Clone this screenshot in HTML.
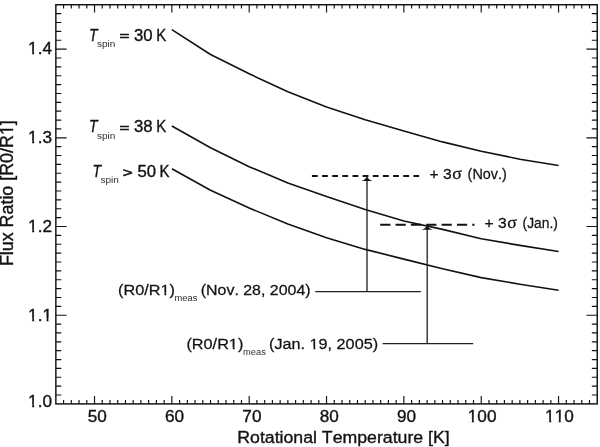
<!DOCTYPE html>
<html lang="en"><head><meta charset="utf-8"><title>Flux Ratio vs Rotational Temperature</title>
<style>html,body{margin:0;padding:0;background:#fff;}body{width:600px;height:447px;overflow:hidden;}svg{display:block;}text{font-family:"Liberation Sans",sans-serif;fill:#121212;stroke:#121212;stroke-width:0.36px;font-kerning:none;}.ann{stroke-width:0.26px;}.sub{stroke:none;fill:#2e2e2e;}.it{font-style:italic;}.sy{font-family:"Liberation Serif","DejaVu Serif",serif;}</style></head><body>
<svg width="600" height="447" viewBox="0 0 600 447">
<rect width="600" height="447" fill="#fff"/>
<rect x="55.85" y="4.75" width="541.38" height="399.15" fill="none" stroke="#121212" stroke-width="1.45"/>
<path d="M63.58 403.90v-3.80M63.58 4.75v3.80M71.32 403.90v-3.80M71.32 4.75v3.80M79.05 403.90v-3.80M79.05 4.75v3.80M86.79 403.90v-3.80M86.79 4.75v3.80M94.52 403.90v-7.80M94.52 4.75v7.80M102.25 403.90v-3.80M102.25 4.75v3.80M109.99 403.90v-3.80M109.99 4.75v3.80M117.72 403.90v-3.80M117.72 4.75v3.80M125.46 403.90v-3.80M125.46 4.75v3.80M133.19 403.90v-3.80M133.19 4.75v3.80M140.92 403.90v-3.80M140.92 4.75v3.80M148.66 403.90v-3.80M148.66 4.75v3.80M156.39 403.90v-3.80M156.39 4.75v3.80M164.13 403.90v-3.80M164.13 4.75v3.80M171.86 403.90v-7.80M171.86 4.75v7.80M179.59 403.90v-3.80M179.59 4.75v3.80M187.33 403.90v-3.80M187.33 4.75v3.80M195.06 403.90v-3.80M195.06 4.75v3.80M202.80 403.90v-3.80M202.80 4.75v3.80M210.53 403.90v-3.80M210.53 4.75v3.80M218.26 403.90v-3.80M218.26 4.75v3.80M226.00 403.90v-3.80M226.00 4.75v3.80M233.73 403.90v-3.80M233.73 4.75v3.80M241.47 403.90v-3.80M241.47 4.75v3.80M249.20 403.90v-7.80M249.20 4.75v7.80M256.93 403.90v-3.80M256.93 4.75v3.80M264.67 403.90v-3.80M264.67 4.75v3.80M272.40 403.90v-3.80M272.40 4.75v3.80M280.14 403.90v-3.80M280.14 4.75v3.80M287.87 403.90v-3.80M287.87 4.75v3.80M295.60 403.90v-3.80M295.60 4.75v3.80M303.34 403.90v-3.80M303.34 4.75v3.80M311.07 403.90v-3.80M311.07 4.75v3.80M318.81 403.90v-3.80M318.81 4.75v3.80M326.54 403.90v-7.80M326.54 4.75v7.80M334.27 403.90v-3.80M334.27 4.75v3.80M342.01 403.90v-3.80M342.01 4.75v3.80M349.74 403.90v-3.80M349.74 4.75v3.80M357.48 403.90v-3.80M357.48 4.75v3.80M365.21 403.90v-3.80M365.21 4.75v3.80M372.94 403.90v-3.80M372.94 4.75v3.80M380.68 403.90v-3.80M380.68 4.75v3.80M388.41 403.90v-3.80M388.41 4.75v3.80M396.15 403.90v-3.80M396.15 4.75v3.80M403.88 403.90v-7.80M403.88 4.75v7.80M411.61 403.90v-3.80M411.61 4.75v3.80M419.35 403.90v-3.80M419.35 4.75v3.80M427.08 403.90v-3.80M427.08 4.75v3.80M434.82 403.90v-3.80M434.82 4.75v3.80M442.55 403.90v-3.80M442.55 4.75v3.80M450.28 403.90v-3.80M450.28 4.75v3.80M458.02 403.90v-3.80M458.02 4.75v3.80M465.75 403.90v-3.80M465.75 4.75v3.80M473.49 403.90v-3.80M473.49 4.75v3.80M481.22 403.90v-7.80M481.22 4.75v7.80M488.95 403.90v-3.80M488.95 4.75v3.80M496.69 403.90v-3.80M496.69 4.75v3.80M504.42 403.90v-3.80M504.42 4.75v3.80M512.16 403.90v-3.80M512.16 4.75v3.80M519.89 403.90v-3.80M519.89 4.75v3.80M527.62 403.90v-3.80M527.62 4.75v3.80M535.36 403.90v-3.80M535.36 4.75v3.80M543.09 403.90v-3.80M543.09 4.75v3.80M550.83 403.90v-3.80M550.83 4.75v3.80M558.56 403.90v-7.80M558.56 4.75v7.80M566.29 403.90v-3.80M566.29 4.75v3.80M574.03 403.90v-3.80M574.03 4.75v3.80M581.76 403.90v-3.80M581.76 4.75v3.80M589.50 403.90v-3.80M589.50 4.75v3.80M55.85 395.03h5.40M597.23 395.03h-5.40M55.85 386.16h5.40M597.23 386.16h-5.40M55.85 377.29h5.40M597.23 377.29h-5.40M55.85 368.42h5.40M597.23 368.42h-5.40M55.85 359.55h5.40M597.23 359.55h-5.40M55.85 350.68h5.40M597.23 350.68h-5.40M55.85 341.81h5.40M597.23 341.81h-5.40M55.85 332.94h5.40M597.23 332.94h-5.40M55.85 324.07h5.40M597.23 324.07h-5.40M55.85 315.20h10.80M597.23 315.20h-10.80M55.85 306.33h5.40M597.23 306.33h-5.40M55.85 297.46h5.40M597.23 297.46h-5.40M55.85 288.59h5.40M597.23 288.59h-5.40M55.85 279.72h5.40M597.23 279.72h-5.40M55.85 270.85h5.40M597.23 270.85h-5.40M55.85 261.98h5.40M597.23 261.98h-5.40M55.85 253.11h5.40M597.23 253.11h-5.40M55.85 244.24h5.40M597.23 244.24h-5.40M55.85 235.37h5.40M597.23 235.37h-5.40M55.85 226.50h10.80M597.23 226.50h-10.80M55.85 217.63h5.40M597.23 217.63h-5.40M55.85 208.76h5.40M597.23 208.76h-5.40M55.85 199.89h5.40M597.23 199.89h-5.40M55.85 191.02h5.40M597.23 191.02h-5.40M55.85 182.15h5.40M597.23 182.15h-5.40M55.85 173.28h5.40M597.23 173.28h-5.40M55.85 164.41h5.40M597.23 164.41h-5.40M55.85 155.54h5.40M597.23 155.54h-5.40M55.85 146.67h5.40M597.23 146.67h-5.40M55.85 137.80h10.80M597.23 137.80h-10.80M55.85 128.93h5.40M597.23 128.93h-5.40M55.85 120.06h5.40M597.23 120.06h-5.40M55.85 111.19h5.40M597.23 111.19h-5.40M55.85 102.32h5.40M597.23 102.32h-5.40M55.85 93.45h5.40M597.23 93.45h-5.40M55.85 84.58h5.40M597.23 84.58h-5.40M55.85 75.71h5.40M597.23 75.71h-5.40M55.85 66.84h5.40M597.23 66.84h-5.40M55.85 57.97h5.40M597.23 57.97h-5.40M55.85 49.10h10.80M597.23 49.10h-10.80M55.85 40.23h5.40M597.23 40.23h-5.40M55.85 31.36h5.40M597.23 31.36h-5.40M55.85 22.49h5.40M597.23 22.49h-5.40M55.85 13.62h5.40M597.23 13.62h-5.40" fill="none" stroke="#121212" stroke-width="1.15"/>
<g transform="translate(97.22 421.50) translate(-9.57 0) scale(1.0120 1)"><text font-size="17.00">50</text></g>
<g transform="translate(174.56 421.50) translate(-9.57 0) scale(1.0120 1)"><text font-size="17.00">60</text></g>
<g transform="translate(251.90 421.50) translate(-9.57 0) scale(1.0120 1)"><text font-size="17.00">70</text></g>
<g transform="translate(329.24 421.50) translate(-9.57 0) scale(1.0120 1)"><text font-size="17.00">80</text></g>
<g transform="translate(406.58 421.50) translate(-9.57 0) scale(1.0120 1)"><text font-size="17.00">90</text></g>
<g transform="translate(482.12 421.50) translate(-14.35 0) scale(1.0120 1)"><text font-size="17.00">100</text><rect x="0.29" y="-2.37" width="3.78" height="3.67" fill="#fff"/><rect x="5.98" y="-2.37" width="3.65" height="3.67" fill="#fff"/></g>
<g transform="translate(559.46 421.50) translate(-14.35 0) scale(1.0120 1)"><text font-size="17.00">110</text><rect x="0.29" y="-2.37" width="3.78" height="3.67" fill="#fff"/><rect x="5.98" y="-2.37" width="3.65" height="3.67" fill="#fff"/><rect x="9.75" y="-2.37" width="3.78" height="3.67" fill="#fff"/><rect x="15.43" y="-2.37" width="3.65" height="3.67" fill="#fff"/></g>
<g transform="translate(52.00 406.50) translate(-23.92 0) scale(1.0120 1)"><text font-size="17.00">1.0</text><rect x="0.29" y="-2.37" width="3.78" height="3.67" fill="#fff"/><rect x="5.98" y="-2.37" width="3.65" height="3.67" fill="#fff"/></g>
<g transform="translate(52.00 320.50) translate(-23.92 0) scale(1.0120 1)"><text font-size="17.00">1.1</text><rect x="0.29" y="-2.37" width="3.78" height="3.67" fill="#fff"/><rect x="5.98" y="-2.37" width="3.65" height="3.67" fill="#fff"/><rect x="14.47" y="-2.37" width="3.78" height="3.67" fill="#fff"/><rect x="20.16" y="-2.37" width="3.65" height="3.67" fill="#fff"/></g>
<g transform="translate(52.00 231.80) translate(-23.92 0) scale(1.0120 1)"><text font-size="17.00">1.2</text><rect x="0.29" y="-2.37" width="3.78" height="3.67" fill="#fff"/><rect x="5.98" y="-2.37" width="3.65" height="3.67" fill="#fff"/></g>
<g transform="translate(52.00 143.10) translate(-23.92 0) scale(1.0120 1)"><text font-size="17.00">1.3</text><rect x="0.29" y="-2.37" width="3.78" height="3.67" fill="#fff"/><rect x="5.98" y="-2.37" width="3.65" height="3.67" fill="#fff"/></g>
<g transform="translate(52.00 54.40) translate(-23.92 0) scale(1.0120 1)"><text font-size="17.00">1.4</text><rect x="0.29" y="-2.37" width="3.78" height="3.67" fill="#fff"/><rect x="5.98" y="-2.37" width="3.65" height="3.67" fill="#fff"/></g>
<text x="343.5" y="443.4" font-size="17.4" text-anchor="middle" textLength="212.4" lengthAdjust="spacingAndGlyphs">Rotational Temperature [K]</text>
<g transform="translate(12.90 193.10) rotate(-90) translate(-73.00 0) scale(1.0212 1)"><text font-size="17.50">Flux Ratio [R0/R1]</text><rect x="128.70" y="-2.41" width="3.87" height="3.71" fill="#fff"/><rect x="134.52" y="-2.41" width="3.73" height="3.71" fill="#fff"/></g>
<polyline points="171.86,29.60 210.53,54.50 249.20,73.80 287.87,91.80 326.54,107.10 365.21,119.80 403.88,131.00 442.55,141.90 481.22,151.30 519.89,159.20 558.56,165.50" fill="none" stroke="#121212" stroke-width="1.6" stroke-linejoin="round"/>
<polyline points="171.86,126.00 210.53,147.70 249.20,166.70 287.87,182.90 326.54,196.60 365.21,209.60 403.88,221.00 442.55,229.40 481.22,238.70 519.89,245.40 558.56,251.50" fill="none" stroke="#121212" stroke-width="1.6" stroke-linejoin="round"/>
<polyline points="171.86,168.70 210.53,190.30 249.20,208.00 287.87,224.10 326.54,237.70 365.21,249.40 403.88,259.10 442.55,268.70 481.22,277.60 519.89,284.20 558.56,290.20" fill="none" stroke="#121212" stroke-width="1.6" stroke-linejoin="round"/>
<line x1="311.9" y1="176" x2="419.7" y2="176" stroke="#121212" stroke-width="1.8" stroke-dasharray="5.8 4.35"/>
<line x1="380.2" y1="224.7" x2="474.5" y2="224.7" stroke="#121212" stroke-width="2.1" stroke-dasharray="10.2 5.15"/>
<path d="M367.0 291.7V178M315.3 291.7H420.9M427.2 343.6V227M382.6 343.6H473.2" fill="none" stroke="#202020" stroke-width="1.3"/>
<path d="M367.00 175.80c0.9 2.9 2.8 4.6 5.6 5.3h-11.2c2.8 -0.7 4.7 -2.4 5.6 -5.3zM427.20 224.40c0.9 2.9 2.8 4.6 5.6 5.3h-11.2c2.8 -0.7 4.7 -2.4 5.6 -5.3z" fill="#121212"/>
<text class="it" x="89.00" y="40.60" font-size="16.2" textLength="8.6" lengthAdjust="spacingAndGlyphs">T</text>
<text class="sub" x="97.00" y="46.90" font-size="9.1" textLength="18.3" lengthAdjust="spacingAndGlyphs">spin</text>
<text transform="translate(119.40 36.00) scale(1.05 0.84)" y="5.25" font-size="16.2" style="stroke-width:0.65px">=</text>
<text x="134.00" y="40.60" font-size="16.2" textLength="18.6" lengthAdjust="spacingAndGlyphs">30</text>
<text x="156.20" y="40.60" font-size="16.2" textLength="10" lengthAdjust="spacingAndGlyphs">K</text>
<text class="it" x="89.00" y="132.20" font-size="16.2" textLength="8.6" lengthAdjust="spacingAndGlyphs">T</text>
<text class="sub" x="97.00" y="138.50" font-size="9.1" textLength="18.3" lengthAdjust="spacingAndGlyphs">spin</text>
<text transform="translate(119.40 127.60) scale(1.05 0.84)" y="5.25" font-size="16.2" style="stroke-width:0.65px">=</text>
<text x="134.00" y="132.20" font-size="16.2" textLength="18.6" lengthAdjust="spacingAndGlyphs">38</text>
<text x="156.20" y="132.20" font-size="16.2" textLength="10" lengthAdjust="spacingAndGlyphs">K</text>
<text class="it" x="92.40" y="176.90" font-size="16.2" textLength="8.6" lengthAdjust="spacingAndGlyphs">T</text>
<text class="sub" x="100.40" y="183.20" font-size="9.1" textLength="18.3" lengthAdjust="spacingAndGlyphs">spin</text>
<text transform="translate(122.80 172.30) scale(1.05 0.84)" y="5.25" font-size="16.2" style="stroke-width:0.65px">&gt;</text>
<text x="137.40" y="176.90" font-size="16.2" textLength="18.6" lengthAdjust="spacingAndGlyphs">50</text>
<text x="159.60" y="176.90" font-size="16.2" textLength="10" lengthAdjust="spacingAndGlyphs">K</text>
<g transform="translate(118.00 295.00) translate(0.00 0) scale(1.0643 1)"><text font-size="15.30" class="ann">(R0/R1)</text><rect x="40.12" y="-2.24" width="3.48" height="3.54" fill="#fff"/><rect x="45.35" y="-2.24" width="3.36" height="3.54" fill="#fff"/></g>
<text class="sub" x="174.60" y="300.80" font-size="8.3" textLength="22.8" lengthAdjust="spacingAndGlyphs">meas</text>
<g transform="translate(200.70 295.00) translate(0.00 0) scale(1.0431 1)"><text font-size="15.30" class="ann">(Nov. 28, 2004)</text></g>
<g transform="translate(186.40 349.20) translate(0.00 0) scale(1.0643 1)"><text font-size="15.30" class="ann">(R0/R1)</text><rect x="40.12" y="-2.24" width="3.48" height="3.54" fill="#fff"/><rect x="45.35" y="-2.24" width="3.36" height="3.54" fill="#fff"/></g>
<text class="sub" x="243.00" y="355.00" font-size="8.3" textLength="22.8" lengthAdjust="spacingAndGlyphs">meas</text>
<g transform="translate(269.10 349.20) translate(0.00 0) scale(1.0591 1)"><text font-size="15.30" class="ann">(Jan. 19, 2005)</text><rect x="38.43" y="-2.24" width="3.48" height="3.54" fill="#fff"/><rect x="43.66" y="-2.24" width="3.36" height="3.54" fill="#fff"/></g>
<text class="ann" transform="translate(429.50 179.40) scale(1.02 1)" font-size="15.3">+</text>
<text class="ann" transform="translate(443.10 179.40) scale(1.02 1)" font-size="15.3">3</text>
<text class="sy ann" transform="translate(452.30 179.40) scale(1.08 1)" font-size="16.5">σ</text>
<text class="ann" x="467.60" y="179.40" font-size="15.3" textLength="39.2" lengthAdjust="spacingAndGlyphs">(Nov.)</text>
<text class="ann" transform="translate(484.50 228.20) scale(1.02 1)" font-size="15.3">+</text>
<text class="ann" transform="translate(498.10 228.20) scale(1.02 1)" font-size="15.3">3</text>
<text class="sy ann" transform="translate(507.30 228.20) scale(1.08 1)" font-size="16.5">σ</text>
<text class="ann" x="522.60" y="228.20" font-size="15.3" textLength="35.2" lengthAdjust="spacingAndGlyphs">(Jan.)</text>
</svg></body></html>
